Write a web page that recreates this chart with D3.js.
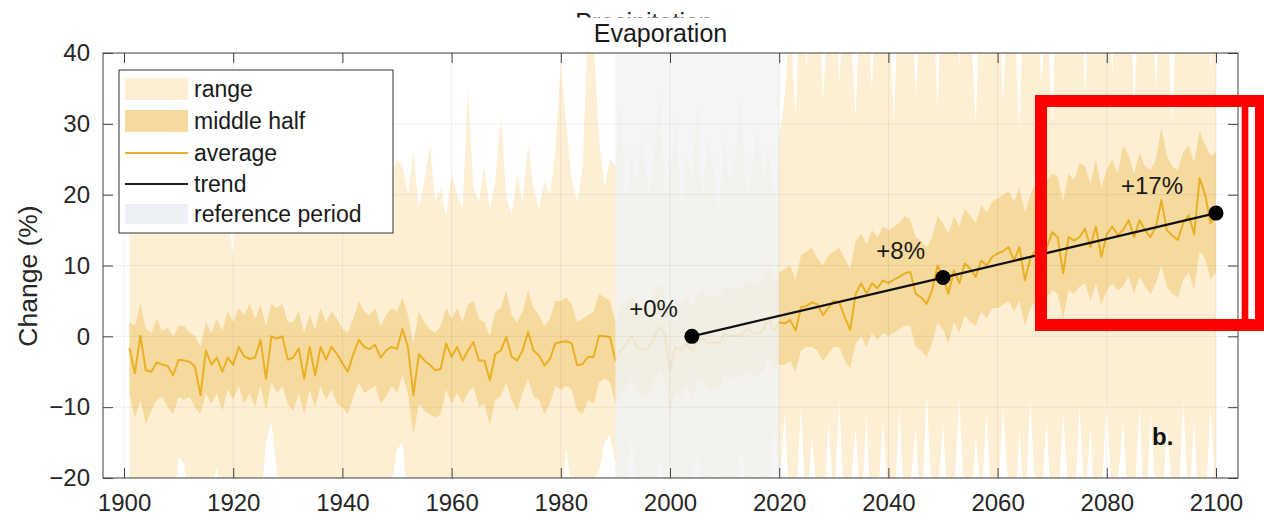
<!DOCTYPE html>
<html><head><meta charset="utf-8">
<script src="https://cdn.jsdelivr.net/npm/d3@7"></script>
<style>
body{margin:0;background:#fff;}
text{font-family:"Liberation Sans",Arial,Helvetica,sans-serif;}
</style>
</head><body>
<svg id="chart" width="1264" height="525"></svg>
<script>
// ---------------- DATA ----------------
const startYear = 1901;
const avgValues = [
 -1.7,-5.2,0.1,-4.8,-5.0,-3.7,-4.0,-4.2,-5.5,-3.3,
 -3.4,-3.6,-4.3,-8.3,-2.0,-4.0,-3.0,-5.0,-3.0,-4.0,
 -1.5,-2.8,-3.2,-3.0,-0.5,-6.0,0.0,-0.3,0.0,-3.3,
 -3.0,-1.7,-6.0,-1.5,-5.5,-1.5,-3.3,-1.5,-2.5,-3.8,
 -5.0,-2.5,-0.5,-1.5,-1.8,-1.2,-3.0,-2.0,-1.5,-1.8,
 1.0,-1.5,-8.3,-2.5,-3.4,-4.0,-4.8,-4.6,-1.0,-2.9,
 -1.5,-3.4,-2.0,-0.8,-3.4,-3.4,-6.2,-2.5,-2.0,-0.1,
 -2.9,-3.4,-2.0,0.6,-2.0,-2.7,-4.1,-3.2,-1.0,-0.8,
 -0.7,-1.0,-4.1,-3.9,-2.9,-2.9,0.1,0.0,-0.1,-3.4,
 -2.0,-1.0,0.0,-1.5,-2.0,-1.7,-0.3,1.3,0.4,-4.8,
 -1.5,-2.0,-1.0,-2.0,-0.6,-0.3,-1.0,-0.8,-1.0,0.4,
 0.0,0.1,0.0,1.1,0.6,0.4,0.8,2.7,0.8,2.0,
 1.8,2.3,0.8,4.1,4.3,4.8,4.5,3.0,4.0,5.0,
 4.8,2.7,0.9,6.0,7.5,6.0,7.5,6.8,7.9,7.5,
 8.0,8.4,8.9,9.1,6.0,5.5,4.6,6.5,10.0,8.4,
 6.0,9.3,7.5,10.3,9.5,8.4,10.7,10.0,11.2,11.7,
 12.0,12.6,10.7,12.6,7.9,11.0,12.2,10.7,12.5,14.7,
 14.0,8.9,14.0,13.5,14.0,15.2,12.6,15.5,11.2,14.4,
 15.5,14.3,15.0,16.4,14.0,16.4,15.0,14.0,15.5,19.2,
 15.0,14.2,13.6,16.0,17.1,14.4,22.3,20.0,16.0,17.0
];
const midUpper = [
 2.0,1.5,4.6,1.0,0.5,2.5,0.8,1.2,0.0,1.5,
 1.5,0.5,0.0,-1.5,2.0,0.5,2.5,0.8,3.5,2.0,
 4.0,3.0,4.6,2.5,4.5,1.5,4.6,4.0,4.6,2.0,
 2.0,3.5,0.5,3.0,1.0,4.0,2.0,3.5,2.5,1.0,
 0.5,2.5,5.0,3.5,3.0,4.0,1.5,3.0,4.0,3.5,
 5.5,3.0,-1.0,3.5,2.0,1.0,0.5,1.5,4.0,2.5,
 4.0,2.0,4.5,5.0,2.5,2.0,0.0,3.5,4.0,6.5,
 3.0,2.0,3.5,6.5,4.0,3.0,1.5,2.5,5.0,5.0,
 5.5,4.5,2.0,2.5,3.0,3.5,6.0,5.5,5.0,2.0,
 4.0,5.0,6.0,4.5,4.0,4.5,6.0,7.5,6.0,1.5,
 5.0,4.5,5.5,4.0,6.0,6.5,5.5,6.0,5.5,7.0,
 6.5,7.0,6.5,8.0,7.5,7.0,8.0,10.0,7.5,9.0,
 9.5,10.0,8.0,11.5,12.0,12.5,11.0,10.0,11.5,12.0,
 12.5,11.0,9.5,13.5,14.5,13.0,15.0,14.0,15.5,15.0,
 15.5,16.0,17.0,16.5,14.0,13.5,12.5,14.0,17.0,16.0,
 14.5,17.0,15.5,18.0,17.0,16.0,18.5,17.5,19.0,19.5,
 20.0,20.5,19.0,21.0,17.5,20.0,21.5,20.0,22.0,23.0,
 22.5,19.0,23.0,22.0,24.5,24.0,21.5,25.0,21.0,23.5,
 25.0,23.0,27.0,25.5,23.0,26.0,24.0,23.5,25.0,29.5,
 25.5,24.0,23.5,26.0,27.0,24.5,29.0,27.0,25.5,26.0
];
const midLower = [
 -8.0,-11.5,-9.0,-12.4,-10.5,-9.0,-8.5,-10.0,-11.0,-8.5,
 -9.0,-8.5,-10.0,-11.0,-8.0,-9.5,-8.0,-10.5,-7.5,-9.0,
 -7.0,-9.5,-8.0,-10.0,-7.0,-10.5,-6.5,-8.0,-7.0,-9.5,
 -10.5,-8.0,-11.0,-7.5,-10.0,-7.0,-9.0,-7.5,-9.5,-10.0,
 -11.0,-8.5,-6.5,-8.0,-7.5,-7.0,-9.5,-8.5,-7.0,-8.0,
 -5.5,-8.0,-14.0,-9.5,-10.5,-11.0,-11.5,-11.0,-7.5,-9.5,
 -8.0,-9.5,-8.0,-7.0,-10.0,-9.5,-12.5,-9.0,-8.5,-6.5,
 -9.0,-10.5,-8.0,-6.0,-8.5,-9.0,-11.0,-9.5,-7.0,-7.5,
 -7.0,-7.5,-10.5,-11.0,-9.0,-9.5,-6.5,-6.0,-6.5,-9.5,
 -8.5,-7.0,-6.0,-7.5,-8.5,-8.0,-6.5,-5.0,-6.0,-11.0,
 -8.0,-8.5,-7.0,-8.5,-6.5,-6.0,-7.5,-7.0,-7.5,-5.5,
 -6.0,-5.5,-6.0,-4.5,-5.5,-5.5,-5.0,-3.0,-5.0,-4.0,
 -4.0,-3.5,-5.0,-2.0,-1.5,-1.5,-2.0,-3.5,-2.5,-1.5,
 -1.5,-3.5,-4.5,-1.0,0.0,-1.5,0.5,-0.5,0.5,0.0,
 0.5,1.0,1.5,1.5,-1.5,-2.0,-3.0,-1.0,2.0,1.0,
 -1.0,2.0,0.5,3.0,2.0,1.5,3.5,2.5,4.0,4.0,
 4.5,5.0,3.5,5.0,1.5,4.0,5.0,4.0,5.5,6.5,
 6.0,2.5,6.5,6.0,7.0,7.5,5.0,7.5,4.5,6.5,
 7.5,6.5,7.0,8.5,6.0,8.5,7.0,6.0,7.5,10.0,
 7.0,6.0,5.5,8.0,9.0,6.5,12.0,11.0,8.0,9.0
];
const rangeUpper = [
 22,26,19,30,24,21,27,20,25,23,
 28,19,24,26,22,29,20,25,18,11,
 27,21,24,30,22,19,26,23,28,21,
 25,20,27,24,22,26,19,23,29,21,
 25,22,27,20,24,26,22,28,23,25,
 24,20,26,18,22,27,19,21,17,23,
 20,18,35,21,19,24,18,22,31,20,
 17,23,19,27,21,18,22,20,26,39,
 30,22,19,24,45,42,28,21,25,24,
 33,18,27,21,30,19,25,35,20,23,
 31,18,26,22,33,19,28,24,17,29,
 21,26,34,20,23,30,22,27,19,28,
 34,45,31,50,38,48,55,33,47,52,
 36,49,44,31,53,46,35,58,45,49,
 30,52,47,56,34,48,44,51,32,55,
 46,49,38,57,45,30,52,48,44,53,
 33,50,47,29,55,48,51,36,46,30,
 54,49,50,45,57,34,48,52,44,50,
 37,53,47,56,32,49,45,51,35,54,
 47,30,52,48,44,55,46,50,38,45
];
const rangeLower = [
 -24,-28,-22,-30,-25,-23,-27,-24,-26,-17,
 -18,-25,-29,-32,-24,-22,-18.5,-26,-23,-27,
 -22,-25,-28,-21,-24,-15,-12,-19,-24,-26,
 -28,-23,-30,-22,-27,-21,-25,-22,-24,-26,
 -29,-23,-21,-25,-22,-24,-27,-23,-21,-16,
 -15,-24,-31,-25,-22,-27,-24,-21,-26,-23,
 -25,-22,-28,-24,-21,-26,-30,-23,-22,-25,
 -20.5,-24,-22,-26,-23,-21,-27,-25,-22,-24,
 -16,-22,-28,-26,-23,-21,-19,-15,-14,-18,
 -26,-22,-13,-24,-20,-27,-23,-17,-21,-30,
 -22,-19,-25,-21,-16,-24,-22,-27,-18,-23,
 -20,-26,-15,-22,-24,-19,-21,-25,-12,-22,
 -11,-25,-24,-10,-26,-14,-23,-28,-12,-24,
 -9,-27,-22,-13,-25,-11,-29,-24,-12,-23,
 -26,-10,-25,-21,-13,-27,-8,-24,-23,-12,
 -26,-22,-9,-25,-28,-14,-23,-11,-26,-24,
 -10,-22,-27,-13,-25,-9,-24,-23,-12,-28,
 -25,-11,-22,-26,-10,-24,-13,-27,-23,-9,
 -25,-21,-12,-26,-24,-10,-28,-11,-23,-25,
 -13,-22,-26,-9,-24,-12,-27,-25,-10,-23
];
const refPeriod = [1990, 2020];
const trendYears = [2004, 2050, 2100];
const trendValues = [0, 8.3, 17.4];
const trendLabels = ["+0%", "+8%", "+17%"];
const xTicks = [1900, 1920, 1940, 1960, 1980, 2000, 2020, 2040, 2060, 2080, 2100];
const yTicks = [-20, -10, 0, 10, 20, 30, 40];
const legendLabels = ["range", "middle half", "average", "trend", "reference period"];

// ---------------- STYLE ----------------
const C = {
  range: "#fdefd4", mid: "#f6d99d", avg: "#eab024", trend: "#111111",
  ref: "#f0f2f5", axis: "#404040", text: "#262626"
};
const L = 103, T = 53, R = 1238, B = 478;

const years = avgValues.map((_, i) => startYear + i);
const x = d3.scaleLinear().domain([1896.15, 2104.03]).range([L, R]);
const y = d3.scaleLinear().domain([-20, 40]).range([B, T]);

const svg = d3.select("#chart");
svg.append("rect").attr("width", 1264).attr("height", 525).attr("fill", "#fff");
const defs = svg.append("defs");
defs.append("clipPath").attr("id", "plotClip").append("rect")
  .attr("x", L).attr("y", T).attr("width", R - L).attr("height", B - T);
defs.append("clipPath").attr("id", "ghostClip").append("rect")
  .attr("x", 0).attr("y", 0).attr("width", 1264).attr("height", 17.5);

// ghost title underneath (only its top sliver shows)
svg.append("text").attr("x", 644).attr("y", 31).attr("text-anchor", "middle")
  .attr("font-size", 25).attr("fill", "#222").attr("clip-path", "url(#ghostClip)")
  .text("Precipitation");
svg.append("text").attr("x", 660.5).attr("y", 42).attr("text-anchor", "middle")
  .attr("font-size", 25).attr("fill", "#1a1a1a").text("Evaporation");

const plot = svg.append("g").attr("clip-path", "url(#plotClip)");

const rangeArea = d3.area().x((d, i) => x(years[i]))
  .y0((d, i) => y(rangeLower[i])).y1((d, i) => y(rangeUpper[i]));
plot.append("path").datum(rangeUpper).attr("d", rangeArea).attr("fill", C.range);

const midArea = d3.area().x((d, i) => x(years[i]))
  .y0((d, i) => y(midLower[i])).y1((d, i) => y(midUpper[i]));
plot.append("path").datum(midUpper).attr("d", midArea).attr("fill", C.mid);

const avgLine = d3.line().x((d, i) => x(years[i])).y(d => y(d));
plot.append("path").datum(avgValues).attr("d", avgLine).attr("fill", "none")
  .attr("stroke", C.avg).attr("stroke-width", 2).attr("stroke-linejoin", "round");

// reference period overlay
plot.append("rect").attr("x", x(refPeriod[0])).attr("y", T)
  .attr("width", x(refPeriod[1]) - x(refPeriod[0])).attr("height", B - T)
  .attr("fill", C.ref).attr("opacity", 0.8);

// grid
const grid = plot.append("g").attr("stroke", "#000").attr("stroke-opacity", 0.06);
grid.selectAll(".gx").data(xTicks).join("line")
  .attr("x1", d => x(d)).attr("x2", d => x(d)).attr("y1", T).attr("y2", B);
grid.selectAll(".gy").data(yTicks).join("line")
  .attr("x1", L).attr("x2", R).attr("y1", d => y(d)).attr("y2", d => y(d));

// trend
const trendLine = d3.line().x((d, i) => x(trendYears[i])).y(d => y(d));
svg.append("path").datum(trendValues).attr("d", trendLine).attr("fill", "none")
  .attr("stroke", C.trend).attr("stroke-width", 2.3);
svg.selectAll(".tdot").data(trendValues).join("circle")
  .attr("cx", (d, i) => x(trendYears[i])).attr("cy", d => y(d)).attr("r", 7.5).attr("fill", "#000");
const labelDx = [-14, -18, -33];
svg.selectAll(".tlab").data(trendLabels).join("text")
  .attr("x", (d, i) => x(trendYears[i]) + labelDx[i])
  .attr("y", (d, i) => y(trendValues[i]) - 19)
  .attr("text-anchor", "end").attr("font-size", 24).attr("fill", "#1a1a1a").text(d => d);

// axes
const fmt = d3.format("d");
const axB = svg.append("g").attr("transform", `translate(0,${B})`)
  .call(d3.axisBottom(x).tickValues(xTicks).tickFormat(fmt).tickSizeInner(-10).tickSizeOuter(0).tickPadding(16));
const axL = svg.append("g").attr("transform", `translate(${L},0)`)
  .call(d3.axisLeft(y).tickValues(yTicks).tickFormat(fmt).tickSizeInner(-10).tickSizeOuter(0).tickPadding(13));
const axT = svg.append("g").attr("transform", `translate(0,${T})`)
  .call(d3.axisTop(x).tickValues(xTicks).tickFormat("").tickSizeInner(-10).tickSizeOuter(0));
const axR = svg.append("g").attr("transform", `translate(${R},0)`)
  .call(d3.axisRight(y).tickValues(yTicks).tickFormat("").tickSizeInner(-10).tickSizeOuter(0));
[axB, axL, axT, axR].forEach(a => {
  a.select(".domain").remove();
  a.selectAll(".tick line").attr("stroke", C.axis);
  a.selectAll("text").attr("font-size", 24).attr("fill", C.text)
    .attr("font-family", "'Liberation Sans',Arial,sans-serif");
});
svg.append("rect").attr("x", L).attr("y", T).attr("width", R - L).attr("height", B - T)
  .attr("fill", "none").attr("stroke", C.axis).attr("stroke-width", 1);

svg.append("text").attr("transform", "translate(37,276) rotate(-90)")
  .attr("text-anchor", "middle").attr("font-size", 26.5).attr("fill", C.text).text("Change (%)");

svg.append("text").attr("x", 1152).attr("y", 445).attr("font-size", 24)
  .attr("font-weight", "bold").attr("fill", "#111").text("b.");

// legend
const lg = svg.append("g");
lg.append("rect").attr("x", 119).attr("y", 70).attr("width", 274).attr("height", 163)
  .attr("fill", "#fff").attr("stroke", "#333").attr("stroke-width", 1);
const rowY = [89, 121, 153, 184, 214];
lg.append("rect").attr("x", 125).attr("y", rowY[0] - 11).attr("width", 63).attr("height", 22).attr("fill", C.range);
lg.append("rect").attr("x", 125).attr("y", rowY[1] - 11).attr("width", 63).attr("height", 22).attr("fill", C.mid);
lg.append("line").attr("x1", 125).attr("x2", 188).attr("y1", rowY[2]).attr("y2", rowY[2])
  .attr("stroke", C.avg).attr("stroke-width", 2);
lg.append("line").attr("x1", 125).attr("x2", 188).attr("y1", rowY[3]).attr("y2", rowY[3])
  .attr("stroke", "#222").attr("stroke-width", 2);
lg.append("rect").attr("x", 125).attr("y", rowY[4] - 10).attr("width", 63).attr("height", 20).attr("fill", "#eceff3");
lg.selectAll(".lt").data(legendLabels).join("text")
  .attr("x", 194).attr("y", (d, i) => rowY[i] + 8).attr("font-size", 23).attr("fill", "#1a1a1a").text(d => d);

// red highlight annotation
svg.append("rect").attr("x", 1041).attr("y", 101).attr("width", 220).attr("height", 224)
  .attr("fill", "none").attr("stroke", "#ff0000").attr("stroke-width", 12);
svg.append("rect").attr("x", 1241.7).attr("y", 101).attr("width", 6.6).attr("height", 224).attr("fill", "#ff0000");
</script>
</body></html>
